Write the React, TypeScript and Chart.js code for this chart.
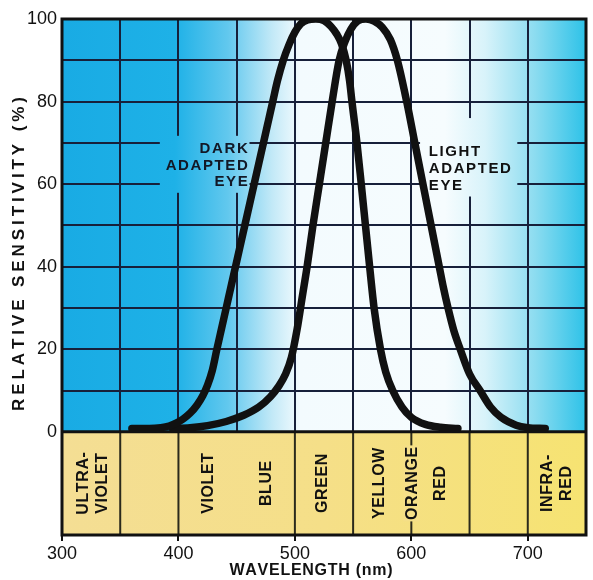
import React, { useEffect, useRef } from 'react';
import { Chart, registerables } from 'chart.js';

Chart.register(...registerables);

// ---- Data ----
const darkWavelength = [360, 375, 385, 392, 398, 404, 410, 416, 421, 425, 429, 433, 437, 441, 445, 449, 453, 457, 461, 465, 469, 473, 477, 481, 485, 490, 495, 500, 505, 511, 518, 525, 531, 536, 540, 544, 547, 549, 553.3, 557, 560.6, 564.2, 568, 573.5, 578, 584, 592, 600, 612, 625, 640];
const darkSensitivity = [0.8, 0.8, 1.0, 1.4, 2.1, 3.1, 4.5, 6.5, 8.8, 11.3, 14.8, 20, 25, 30, 35, 40, 45, 50, 55, 60, 65, 70, 75, 80, 85, 90, 93.8, 96.8, 98.8, 99.8, 100, 99.6, 98.2, 96.3, 94, 90, 85, 80, 70, 60, 50, 40, 30, 20, 14.5, 10, 6, 3.5, 1.8, 1.1, 0.8];

const lightWavelength = [395, 410, 425, 441, 456, 469, 479, 486, 492, 497, 502, 506.5, 510.5, 515.5, 521, 526.5, 532, 538, 543, 548, 554, 561, 568, 575, 582, 588, 596, 603, 610, 617, 624, 627.5, 631.5, 636.5, 642, 650, 659, 668, 677, 690, 700, 715];
const lightSensitivity = [0.8, 1.0, 1.5, 2.5, 4, 6, 8.5, 11, 14, 18, 25, 33, 40, 50, 60, 70, 80, 90, 94.5, 97.5, 99.5, 100, 99.5, 98, 95, 90, 80, 70, 60, 50, 40, 35, 30, 24.5, 20, 14, 10, 6, 3.5, 1.6, 1.0, 0.8];

const xGridValues = [300, 350, 400, 450, 500, 550, 600, 650, 700, 750];
const xLabelValues = [300, 400, 500, 600, 700];
const yGridValues = [0, 10, 20, 30, 40, 50, 60, 70, 80, 90, 100];
const yLabelValues = [0, 20, 40, 60, 80, 100];

const bandDividers = [350, 400, 500, 550, 600, 650, 700];
const bandLabelLines = [['ULTRA-', 'VIOLET'], ['VIOLET'], ['BLUE'], ['GREEN'], ['YELLOW'], ['ORANGE'], ['RED'], ['INFRA-', 'RED']];
const bandLabelWavelength = [326, 425, 475, 523, 572, 600, 624, 724];

const darkLabelLines = ['DARK', 'ADAPTED', 'EYE'];
const lightLabelLines = ['LIGHT', 'ADAPTED', 'EYE'];

const xTitle = 'WAVELENGTH (nm)';
const yTitle = 'RELATIVE SENSITIVITY (%)';

const SANS = '"Liberation Sans", Arial, sans-serif';
const GRID = '#17203a';
const INK = '#111111';

function drawSpaced(ctx: CanvasRenderingContext2D, text: string, x: number, y: number, spacing: number, align: 'left' | 'right' | 'center') {
  const chars = Array.from(text);
  const widths = chars.map((c) => ctx.measureText(c).width);
  const total = widths.reduce((a, b) => a + b, 0) + spacing * (chars.length - 1);
  let start = align === 'left' ? x : align === 'right' ? x - total : x - total / 2;
  const prev = ctx.textAlign;
  ctx.textAlign = 'left';
  chars.forEach((c, i) => {
    ctx.fillText(c, start, y);
    start += widths[i] + spacing;
  });
  ctx.textAlign = prev;
}

function fitSpacing(ctx: CanvasRenderingContext2D, text: string, target: number) {
  const chars = Array.from(text);
  const w = chars.reduce((a, c) => a + ctx.measureText(c).width, 0);
  return (target - w) / Math.max(1, chars.length - 1);
}

function makeGradient(ctx: CanvasRenderingContext2D, left: number, right: number) {
  const g = ctx.createLinearGradient(left, 0, right, 0);
  const w = right - left;
  const stop = (px: number, c: string) => g.addColorStop(Math.min(1, Math.max(0, (px - left) / w)), c);
  stop(left, '#19abe4');
  stop(175, '#1eb1e7');
  stop(228, '#62c8ee');
  stop(272, '#c2e9f7');
  stop(300, '#f3fbfe');
  stop(445, '#f6fcfe');
  stop(485, '#d8f3fa');
  stop(535, '#8cdcf0');
  stop(right, '#2dc2e8');
  return g;
}

const decorPlugin = {
  id: 'decor',
  beforeDraw(chart: any) {
    const { ctx, chartArea: a, scales } = chart;
    const y0 = scales.y.getPixelForValue(0);
    ctx.save();
    ctx.fillStyle = makeGradient(ctx, a.left, a.right);
    ctx.fillRect(a.left, a.top, a.right - a.left, y0 - a.top);
    ctx.restore();
  },
  beforeDatasetsDraw(chart: any) {
    const { ctx, chartArea: a, scales } = chart;
    const xs = scales.x;
    const ys = scales.y;
    const y0 = ys.getPixelForValue(0);
    ctx.save();
    // yellow band
    const yg = ctx.createLinearGradient(a.left, 0, a.right, 0);
    yg.addColorStop(0, '#f4de94');
    yg.addColorStop(0.5, '#f5df88');
    yg.addColorStop(1, '#f6e372');
    ctx.fillStyle = yg;
    ctx.fillRect(a.left, y0, a.right - a.left, a.bottom - y0);
    // dividers
    ctx.strokeStyle = '#2b2a1c';
    ctx.lineWidth = 2;
    bandDividers.forEach((v) => {
      const x = xs.getPixelForValue(v);
      ctx.beginPath();
      ctx.moveTo(x, y0);
      ctx.lineTo(x, a.bottom);
      ctx.stroke();
    });
    // band labels
    const midY = (y0 + a.bottom) / 2;
    ctx.font = `bold 16px ${SANS}`;
    ctx.fillStyle = INK;
    ctx.textBaseline = 'middle';
    bandLabelLines.forEach((lines, i) => {
      const cx = xs.getPixelForValue(bandLabelWavelength[i]);
      const lh = 19;
      ctx.save();
      ctx.translate(cx, midY);
      ctx.rotate(-Math.PI / 2);
      if (lines[0] === 'ORANGE') {
        ctx.fillStyle = '#f5df88';
        ctx.fillRect(-38, -8, 76, 16);
        ctx.fillStyle = INK;
      }
      lines.forEach((t, j) => {
        const dy = (j - (lines.length - 1) / 2) * lh;
        drawSpaced(ctx, t, 0, dy + 1, 0.6, 'center');
      });
      ctx.restore();
    });
    // baseline
    ctx.strokeStyle = INK;
    ctx.lineWidth = 3;
    ctx.beginPath();
    ctx.moveTo(a.left, y0);
    ctx.lineTo(a.right, y0);
    ctx.stroke();

    // clear grid behind annotations
    const grad = makeGradient(ctx, a.left, a.right);
    ctx.fillStyle = grad;
    const dl = xs.getPixelForValue(384), dr = xs.getPixelForValue(461);
    const dt = ys.getPixelForValue(71.7), db = ys.getPixelForValue(57.9);
    ctx.fillRect(dl, dt, dr - dl, db - dt);
    const ll = xs.getPixelForValue(607.5), lr = xs.getPixelForValue(691);
    const lt = ys.getPixelForValue(76), lb = ys.getPixelForValue(57);
    ctx.fillRect(ll, lt, lr - ll, lb - lt);

    // annotation text
    ctx.font = `bold 15px ${SANS}`;
    ctx.fillStyle = '#121826';
    ctx.textBaseline = 'middle';
    const dx = xs.getPixelForValue(459.5);
    const dy0 = ys.getPixelForValue(68.5);
    darkLabelLines.forEach((t, i) => drawSpaced(ctx, t, dx, dy0 + i * 16.5, 1.6, 'right'));
    ctx.fillStyle = INK;
    const lx = xs.getPixelForValue(615);
    const ly0 = ys.getPixelForValue(67.8);
    lightLabelLines.forEach((t, i) => drawSpaced(ctx, t, lx, ly0 + i * 17, 1.6, 'left'));
    ctx.restore();
  },
  afterDatasetsDraw(chart: any) {
    const { ctx, chartArea: a } = chart;
    ctx.save();
    ctx.strokeStyle = INK;
    ctx.lineWidth = 3;
    ctx.strokeRect(a.left, a.top, a.right - a.left, a.bottom - a.top);
    ctx.restore();
  },
  afterDraw(chart: any) {
    const { ctx } = chart;
    ctx.save();
    ctx.fillStyle = INK;
    ctx.textBaseline = 'middle';
    // y title
    ctx.font = `bold 17px ${SANS}`;
    ctx.save();
    ctx.translate(19, 254);
    ctx.rotate(-Math.PI / 2);
    drawSpaced(ctx, yTitle, 0, 0, fitSpacing(ctx, yTitle, 314), 'center');
    ctx.restore();
    // x title
    ctx.font = `bold 16px ${SANS}`;
    drawSpaced(ctx, xTitle, 311, 571, fitSpacing(ctx, xTitle, 163), 'center');
    ctx.restore();
  },
};

export default function App() {
  const ref = useRef<HTMLCanvasElement | null>(null);
  useEffect(() => {
    if (!ref.current) return;
    const lineStyle = {
      borderColor: INK,
      borderWidth: 7.5,
      pointRadius: 0,
      fill: false,
      cubicInterpolationMode: 'monotone',
      borderJoinStyle: 'round',
      borderCapStyle: 'round',
    };
    const chart = new Chart(ref.current, {
      type: 'line',
      data: {
        datasets: [
          {
            label: 'Dark adapted eye',
            data: darkWavelength.map((x, i) => ({ x, y: darkSensitivity[i] })),
            ...lineStyle,
          },
          {
            label: 'Light adapted eye',
            data: lightWavelength.map((x, i) => ({ x, y: lightSensitivity[i] })),
            ...lineStyle,
          },
        ],
      },
      options: {
        responsive: false,
        animation: false,
        layout: { padding: { top: 19, right: 7, left: 0, bottom: 0 } },
        plugins: { legend: { display: false }, tooltip: { enabled: false }, title: { display: false } },
        scales: {
          x: {
            type: 'linear',
            min: 300,
            max: 750,
            afterBuildTicks: (s: any) => {
              s.ticks = xGridValues.map((v) => ({ value: v }));
            },
            afterFit: (s: any) => {
              s.height = 45;
            },
            ticks: {
              autoSkip: false,
              maxRotation: 0,
              padding: 2,
              color: INK,
              font: { family: SANS, size: 18 },
              callback: (v: any) => (xLabelValues.includes(Number(v)) ? String(v) : ''),
            },
            grid: {
              color: GRID,
              lineWidth: 2,
              drawTicks: true,
              tickLength: 6,
              tickWidth: 2,
              tickColor: (c: any) => (c.tick && xLabelValues.includes(c.tick.value) ? INK : 'rgba(0,0,0,0)'),
            },
            border: { display: false },
          },
          y: {
            type: 'linear',
            min: -25,
            max: 100,
            afterBuildTicks: (s: any) => {
              s.ticks = yGridValues.map((v) => ({ value: v }));
            },
            afterFit: (s: any) => {
              s.width = 62;
            },
            ticks: {
              autoSkip: false,
              padding: 5,
              color: INK,
              font: { family: SANS, size: 18 },
              callback: (v: any) => (yLabelValues.includes(Number(v)) ? String(v) : ''),
            },
            grid: { color: GRID, lineWidth: 2, drawTicks: false },
            border: { display: false },
          },
        },
      },
      plugins: [decorPlugin],
    } as any);
    return () => chart.destroy();
  }, []);
  return (
    <div style={{ position: 'fixed', left: 0, top: 0, width: 593, height: 580, background: '#fff' }}>
      <canvas ref={ref} width={593} height={580} style={{ display: 'block' }} />
    </div>
  );
}
